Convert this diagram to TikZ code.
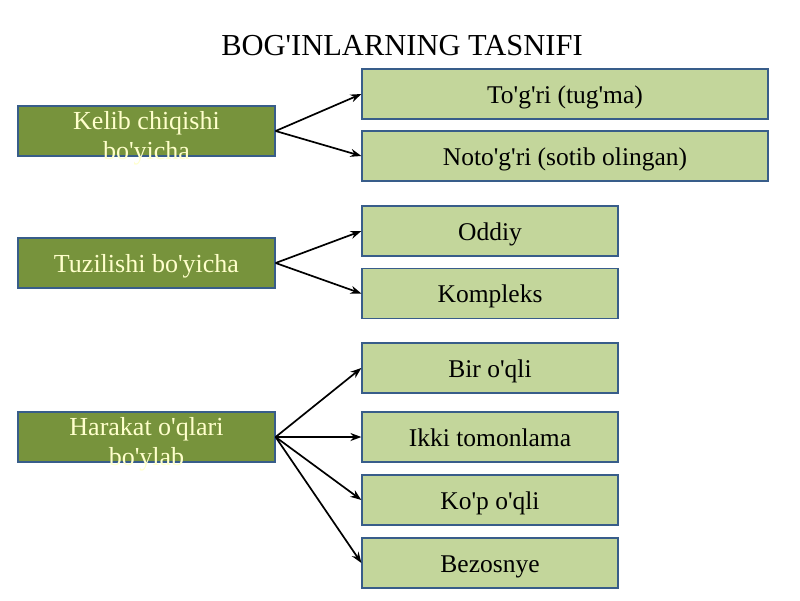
\documentclass[tikz,border=0pt]{standalone}
\usepackage{fontspec}
\setmainfont{Liberation Serif}[Ligatures=TeXOff]
\usetikzlibrary{positioning,arrows.meta}

\definecolor{olivedark}{HTML}{77933C}
\definecolor{olivelight}{HTML}{C3D69B}
\definecolor{boxedge}{HTML}{385D8A}
\definecolor{paletext}{HTML}{FFFFCC}

\begin{document}
\begin{tikzpicture}[x=1pt,y=-1pt]

        \tikzstyle{arrow} = [line width=1.7pt,-{Stealth[length=11pt,width=8pt]}]
        \tikzset{group/.style = {rectangle, draw=boxedge, line width=1.2pt, fill=olivedark, minimum width=257pt, minimum height=50pt, inner sep=0pt}, }
        \tikzset{grouptext/.style = {text=paletext, align=center, font=\fontsize{26}{30}\selectfont, inner sep=0pt}, }
        \tikzset{kind/.style = {rectangle, draw=boxedge, line width=1.2pt, fill=olivelight, minimum height=50pt, inner sep=0pt, text height=24pt, text depth=6pt, font=\fontsize{25.5}{30}\selectfont}, }
        \tikzset{wide/.style = {kind, minimum width=406pt}, }
        \tikzset{narrow/.style = {kind, minimum width=256pt}, }

        \useasboundingbox (0,0) rectangle (800,600);

        \node[font=\fontsize{30.5}{36}\selectfont] (title) at (402,46) {BOG'INLARNING TASNIFI};

        \node[group] (G1) at (146.5,131) {};
        \node[grouptext] (G1t) at (146.5,138) {Kelib chiqishi\\bo'yicha};
        \node[group] (G2) at (146.5,263) {};
        \node[grouptext] (G2t) at (146.5,266) {Tuzilishi bo'yicha};
        \node[group] (G3) at (146.5,437) {};
        \node[grouptext] (G3t) at (146.5,444) {Harakat o'qlari\\bo'ylab};

        \node[wide] (K1) at (565,94) {To'g'ri (tug'ma)};
        \node[wide] (K2) at (565,156) {Noto'g'ri (sotib olingan)};
        \node[narrow] (K3) at (490,231) {Oddiy};
        \node[narrow] (K4) at (490,293.5) {Kompleks};
        \node[narrow] (K5) at (490,368) {Bir o'qli};
        \node[narrow] (K6) at (490,437) {Ikki tomonlama};
        \node[narrow] (K7) at (490,500) {Ko'p o'qli};
        \node[narrow] (K8) at (490,563) {Bezosnye};

        \draw[arrow] (G1.east) -- (K1.west);
        \draw[arrow] (G1.east) -- (K2.west);
        \draw[arrow] (G2.east) -- (K3.west);
        \draw[arrow] (G2.east) -- (K4.west);
        \draw[arrow] (G3.east) -- (K5.west);
        \draw[arrow] (G3.east) -- (K6.west);
        \draw[arrow] (G3.east) -- (K7.west);
        \draw[arrow] (G3.east) -- (K8.west);

\end{tikzpicture}
\end{document}
